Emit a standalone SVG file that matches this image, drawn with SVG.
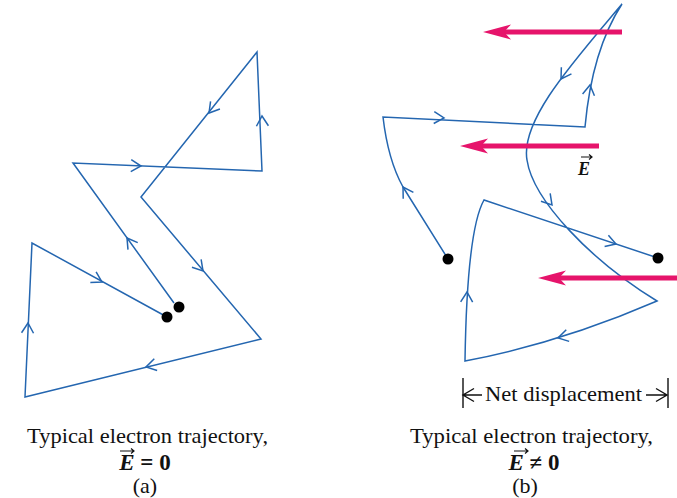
<svg xmlns="http://www.w3.org/2000/svg" xmlns:xlink="http://www.w3.org/1999/xlink" width="677" height="498" viewBox="0 0 677 498">
<style>
.traj{fill:none;stroke:#2466b0;stroke-width:1.5;stroke-linejoin:miter}
.chev{fill:none;stroke:#2466b0;stroke-width:1.5}
.dot{fill:#000}
.field{stroke:#e6146b;stroke-width:5;fill:none}
.fhead{fill:#e6146b}
.cap{font-family:"Liberation Serif","Times New Roman",serif;font-size:22px;fill:#111}
.math{font-family:"Liberation Serif","Times New Roman",serif;font-weight:bold;fill:#111}
.vec{fill:none;stroke:#111;stroke-width:1.2}
.dim{fill:none;stroke:#111;stroke-width:1.4}
</style>
<defs>
<path id="chev" d="M-10,-6 L0,0 L-10,6"/>
</defs>

<g id="connectors">
  <!-- panel (a) trajectory -->
  <path class="traj" d="M174,303 L73,163 L262,171 L257,52 L141,197 L261,339 L25,397 L32,243 L167,317"/>
  <g class="chev">
    <use xlink:href="#chev" transform="translate(127,238) rotate(-125.8)"/>
    <use xlink:href="#chev" transform="translate(141,166) rotate(2.4)"/>
    <use xlink:href="#chev" transform="translate(262,116) rotate(-92.4)"/>
    <use xlink:href="#chev" transform="translate(209,113) rotate(128.7)"/>
    <use xlink:href="#chev" transform="translate(203,271) rotate(49.8)"/>
    <use xlink:href="#chev" transform="translate(146,367) rotate(166.2)"/>
    <use xlink:href="#chev" transform="translate(28,323) rotate(-87.4)"/>
    <use xlink:href="#chev" transform="translate(102,282) rotate(28.7)"/>
  </g>
  <!-- panel (b) trajectory -->
  <path class="traj" d="M448,259 L403,187 Q388,160 383,117 L585,127 Q592,50 622,4 C575,60 520,120 527,160 C533,200 590,260 657,301 Q560,343 465,361 Q467,230 484,200 L658,258"/>
  <g class="chev">
    <use xlink:href="#chev" transform="translate(403,187) rotate(-122)"/>
    <use xlink:href="#chev" transform="translate(444,118) rotate(2.8)"/>
    <use xlink:href="#chev" transform="translate(590,85) rotate(-81.5)"/>
    <use xlink:href="#chev" transform="translate(561,79) rotate(122.7)"/>
    <use xlink:href="#chev" transform="translate(552,205) rotate(50)"/>
    <use xlink:href="#chev" transform="translate(558,338) rotate(166)"/>
    <use xlink:href="#chev" transform="translate(467,292) rotate(-88)"/>
    <use xlink:href="#chev" transform="translate(616,244) rotate(18.4)"/>
  </g>
</g>

<g id="dots">
  <circle class="dot" cx="167" cy="317" r="5.5"/>
  <circle class="dot" cx="179" cy="307" r="5.5"/>
  <circle class="dot" cx="448" cy="259" r="5.5"/>
  <circle class="dot" cx="658" cy="258" r="5.5"/>
</g>

<g id="field-arrows">
  <line class="field" x1="622" y1="32" x2="503" y2="32"/>
  <polygon class="fhead" points="483,32 511,24.5 504,32 511,39.5"/>
  <line class="field" x1="599" y1="146" x2="480" y2="146"/>
  <polygon class="fhead" points="460,146 488,138.5 481,146 488,153.5"/>
  <line class="field" x1="680" y1="278" x2="558" y2="278"/>
  <polygon class="fhead" points="538,278 566,270.5 559,278 566,285.5"/>
</g>

<g id="field-label">
  <text class="math" x="578" y="175" font-size="18" font-style="italic">E</text>
  <path class="vec" d="M581,157 L592,157 M589,154.5 L592,157 L589,159.5"/>
</g>

<g id="net-displacement">
  <path class="dim" d="M463,378 L463,408 M668,378 L668,408"/>
  <path class="dim" d="M463,395 L482,395 M474,388.5 L463,395 L474,401.5"/>
  <path class="dim" d="M646,395 L667,395 M656,388.5 L667,395 L656,401.5"/>
  <text class="cap" x="485" y="401" font-size="21" textLength="157" lengthAdjust="spacingAndGlyphs">Net displacement</text>
</g>

<g id="caption-a">
  <text class="cap" x="27" y="443" textLength="241" lengthAdjust="spacingAndGlyphs">Typical electron trajectory,</text>
  <text class="math" x="145" y="470" font-size="23" text-anchor="middle"><tspan font-style="italic">E</tspan> = 0</text>
  <path class="vec" d="M120,451 L134,451 M131,448.5 L134,451 L131,453.5"/>
  <text class="cap" x="145" y="493" text-anchor="middle">(a)</text>
</g>

<g id="caption-b">
  <text class="cap" x="410" y="443" textLength="243" lengthAdjust="spacingAndGlyphs">Typical electron trajectory,</text>
  <text class="math" x="534" y="470" font-size="23" text-anchor="middle"><tspan font-style="italic">E</tspan> ≠ 0</text>
  <path class="vec" d="M514,451 L528,451 M525,448.5 L528,451 L525,453.5"/>
  <text class="cap" x="525" y="493" text-anchor="middle">(b)</text>
</g>
</svg>
